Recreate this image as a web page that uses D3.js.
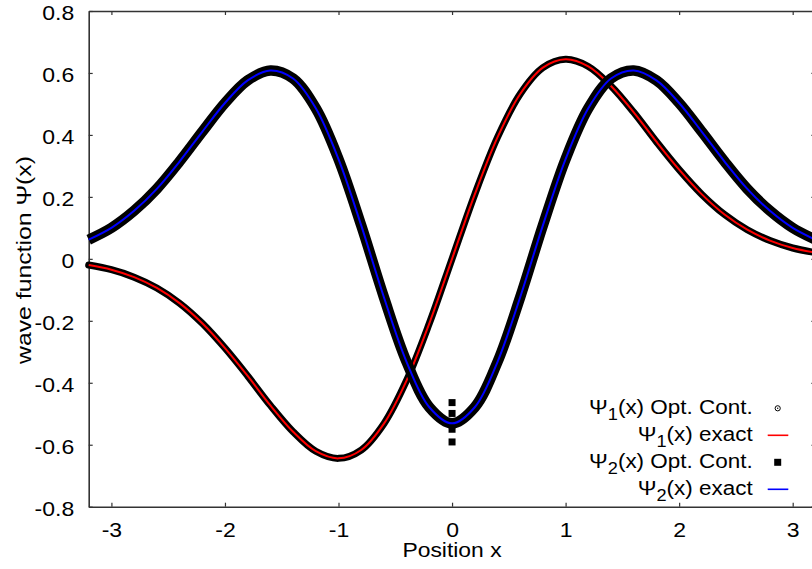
<!DOCTYPE html>
<head>
  <script src="https://d3js.org/d3.v7.min.js"></script>
  <meta charset='utf-8'>
  <style>
    body { margin: 0; background: #fff; }
    svg text { font-family: "Liberation Sans", Arial, Helvetica, sans-serif; fill: #000; }
  </style>
</head>
<body>
<div id="chart"></div>
<script>

// positions
var xs = [-3.2,-3.0,-2.8,-2.6,-2.4,-2.2,-2.0,-1.8,-1.6,-1.4,-1.2,-1.0,-0.8,-0.6,-0.4,-0.2,
          0.0,0.2,0.4,0.6,0.8,1.0,1.2,1.4,1.6,1.8,2.0,2.2,2.4,2.6,2.8,3.0,3.2];

// Psi_1 (exact and opt. cont. lie on top of each other)
var psi1 = [-0.020,-0.035,-0.059,-0.094,-0.143,-0.208,-0.288,-0.378,-0.473,-0.558,-0.621,-0.644,-0.617,-0.532,-0.392,-0.208,
            0.000,0.208,0.392,0.532,0.617,0.644,0.621,0.558,0.473,0.378,0.288,0.208,0.143,0.094,0.059,0.035,0.020];

// Psi_2
var psi2 = [0.062,0.100,0.155,0.226,0.314,0.410,0.503,0.576,0.608,0.582,0.486,0.322,0.108,-0.124,-0.333,-0.479,
            -0.531,-0.479,-0.333,-0.124,0.108,0.322,0.486,0.582,0.608,0.576,0.503,0.410,0.314,0.226,0.155,0.100,0.062];

// stray opt. cont. points of Psi_2 near x = 0
var psi2StrayX = [0, 0, 0, 0];
var psi2StrayY = [-0.464, -0.499, -0.550, -0.591];

var xTicks = [-3,-2,-1,0,1,2,3];
var yTicks = [-0.8,-0.6,-0.4,-0.2,0,0.2,0.4,0.6,0.8];

var W = 812, H = 569;
var mLeft = 88.7, mTop = 11, mRight = 815.4, mBottom = 506.7;

var svg = d3.select("#chart").append("svg")
    .attr("width", W)
    .attr("height", H);

var x = d3.scaleLinear().domain([-3.2, 3.2]).range([mLeft, mRight]);
var y = d3.scaleLinear().domain([-0.8, 0.8]).range([mBottom, mTop]);

// gnuplot prints a plain hyphen, not a unicode minus
function hyphen(f) {
  return function(d) { return d === 0 ? "0" : f(d).replace("\u2212", "-"); };
}

// the picture's text is a bit wider than the font, so stretch it
function stretched(g, px, py, sx, size, anchor) {
  return g.append("text")
      .attr("transform", `translate(${px},${py}) scale(${sx},1)`)
      .attr("font-size", size)
      .attr("text-anchor", anchor);
}

// axes with inward ticks, gnuplot style
var gy = svg.append("g")
    .attr("transform", `translate(${mLeft},0)`)
    .call(d3.axisLeft(y).tickValues(yTicks).tickSizeInner(-4).tickSizeOuter(0)
      .tickFormat(hyphen(d3.format(".1f"))));

var gx = svg.append("g")
    .attr("transform", `translate(0,${mBottom})`)
    .call(d3.axisBottom(x).tickValues(xTicks).tickSizeInner(-4).tickSizeOuter(0)
      .tickFormat(hyphen(d3.format("d"))));

var gt = svg.append("g")
    .attr("transform", `translate(0,${mTop})`)
    .call(d3.axisTop(x).tickValues(xTicks).tickSizeInner(-4).tickSizeOuter(0).tickFormat(""));

var gr = svg.append("g")
    .attr("transform", `translate(${mRight},0)`)
    .call(d3.axisRight(y).tickValues(yTicks).tickSizeInner(-4).tickSizeOuter(0).tickFormat(""));

[gy, gx, gt, gr].forEach(function(g) {
  g.attr("font-family", null).attr("font-size", null);
  g.selectAll("path.domain").attr("stroke", "#333").attr("stroke-width", 1.6);
  g.selectAll(".tick line").attr("stroke", "#333").attr("stroke-width", 1.2);
});

gy.selectAll(".tick text")
    .attr("x", null).attr("dy", null)
    .attr("font-size", 20)
    .attr("fill", "#000")
    .attr("transform", "translate(-14.5,8.5) scale(1.15,1)");

gx.selectAll(".tick text")
    .attr("y", null).attr("dy", null)
    .attr("font-size", 20)
    .attr("fill", "#000")
    .attr("transform", "translate(0,29.8) scale(1.15,1)");

// axis titles
svg.append("text")
    .attr("transform", "translate(31,260) rotate(-90) scale(1.18,1)")
    .attr("font-size", 21)
    .attr("text-anchor", "middle")
    .text("wave function \u03A8(x)");

stretched(svg, 452, 556.5, 1.09, 21, "middle").text("Position x");

var line = d3.line()
    .x(function(d, i) { return x(xs[i]); })
    .y(function(d) { return y(d); })
    .curve(d3.curveCatmullRom);

// Opt. Cont. points are so dense they merge into a black band
svg.append("path")
    .datum(psi1)
    .attr("fill", "none")
    .attr("stroke", "#000")
    .attr("stroke-width", 7)
    .attr("stroke-linecap", "round")
    .attr("d", line);

svg.append("path")
    .datum(psi1)
    .attr("fill", "none")
    .attr("stroke", "#ff0000")
    .attr("stroke-width", 2)
    .attr("d", line);

svg.append("path")
    .datum(psi2)
    .attr("fill", "none")
    .attr("stroke", "#000")
    .attr("stroke-width", 10.5)
    .attr("stroke-linecap", "butt")
    .attr("d", line);

svg.selectAll("rect.stray")
    .data(psi2StrayY)
  .enter().append("rect")
    .attr("class", "stray")
    .attr("x", function(d, i) { return x(psi2StrayX[i]) - 3.5; })
    .attr("y", function(d) { return y(d) - 3.5; })
    .attr("width", 7)
    .attr("height", 7)
    .attr("fill", "#000");

svg.append("path")
    .datum(psi2)
    .attr("fill", "none")
    .attr("stroke", "#0000ff")
    .attr("stroke-width", 2)
    .attr("d", line);

// legend
var legendRows = [
  {n: "1", label: "(x) Opt. Cont.", kind: "circle"},
  {n: "1", label: "(x) exact", kind: "line", color: "#ff0000"},
  {n: "2", label: "(x) Opt. Cont.", kind: "square"},
  {n: "2", label: "(x) exact", kind: "line", color: "#0000ff"}
];

var lg = svg.append("g");
legendRows.forEach(function(r, i) {
  var cy = 408.3 + i * 27;
  var t = stretched(lg, 752.7, cy + 5.5, 1.07, 21, "end");
  t.append("tspan").text("\u03A8");
  t.append("tspan").attr("dy", 6).attr("font-size", 17).text(r.n);
  t.append("tspan").attr("dy", -6).text(r.label);

  if (r.kind === "circle") {
    lg.append("circle").attr("cx", 777.7).attr("cy", cy).attr("r", 2.6)
      .attr("fill", "none").attr("stroke", "#000").attr("stroke-width", 1);
    lg.append("circle").attr("cx", 777.7).attr("cy", cy).attr("r", 0.7).attr("fill", "#000");
  } else if (r.kind === "square") {
    lg.append("rect").attr("x", 774.2).attr("y", cy - 3.5).attr("width", 7).attr("height", 7).attr("fill", "#000");
  } else {
    lg.append("line").attr("x1", 767.7).attr("x2", 788.3).attr("y1", cy).attr("y2", cy)
      .attr("stroke", r.color).attr("stroke-width", 1.6);
  }
});

</script>
</body>
